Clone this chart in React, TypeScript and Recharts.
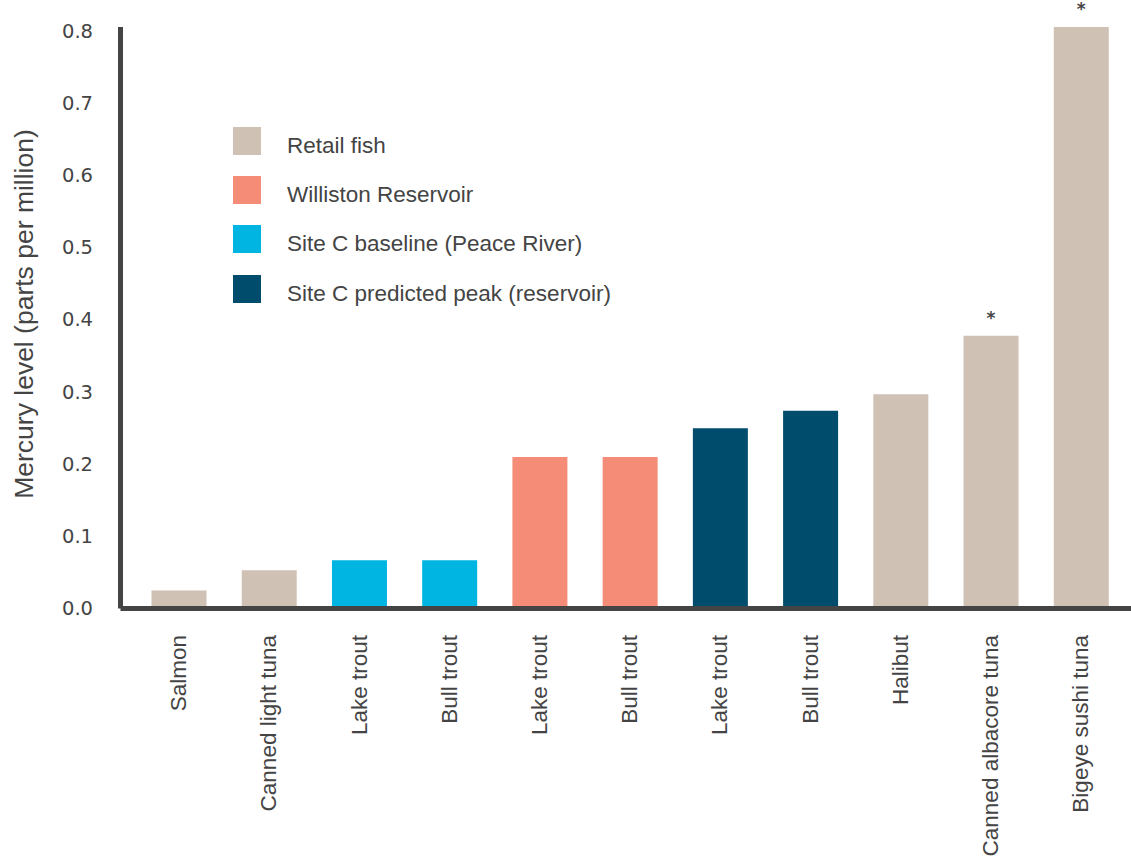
import React from 'react';
import { BarChart, Bar, XAxis, YAxis, Cell, Legend, LabelList } from 'recharts';

const categories = ['Salmon', 'Canned light tuna', 'Lake trout', 'Bull trout', 'Lake trout', 'Bull trout', 'Lake trout', 'Bull trout', 'Halibut', 'Canned albacore tuna', 'Bigeye sushi tuna'];
const values = [0.025, 0.053, 0.067, 0.067, 0.21, 0.21, 0.25, 0.274, 0.297, 0.378, 0.806];
const groups = [0, 0, 2, 2, 1, 1, 3, 3, 0, 0, 0];
const flagged = [false, false, false, false, false, false, false, false, false, true, true];
const seriesNames = ['Retail fish', 'Williston Reservoir', 'Site C baseline (Peace River)', 'Site C predicted peak (reservoir)'];
const seriesColors = ['#cfc1b4', '#f48c78', '#00b5e2', '#004c6c'];
const yTicks = [0, 0.1, 0.2, 0.3, 0.4, 0.5, 0.6, 0.7, 0.8];
const yLabel = 'Mercury level (parts per million)';

const data = categories.map((c, i) => ({ idx: i, name: c, value: values[i], group: groups[i], star: flagged[i] ? '*' : '' }));

const SANS = '"Liberation Sans", Arial, sans-serif';
const DEJA = '"DejaVu Sans", sans-serif';
const TEXT = '#444';

const XTick = (props: any) => {
  const { x, payload } = props;
  return (
    <text x={x} y={635} transform={`rotate(-90 ${x} 635)`} textAnchor="end" dominantBaseline="central" fontSize={22.5} fill={TEXT} fontFamily={SANS}>
      {categories[payload.value]}
    </text>
  );
};

const YTick = (props: any) => {
  const { y, payload } = props;
  return (
    <text x={93} y={y} textAnchor="end" dominantBaseline="central" fontSize={19.5} fill={TEXT} fontFamily={DEJA}>
      {Number(payload.value).toFixed(1)}
    </text>
  );
};

const YLabel = () => (
  <text x={24} y={314} transform="rotate(-90 24 314)" textAnchor="middle" dominantBaseline="central" fontSize={26.5} fill={TEXT} fontFamily={SANS}>
    {yLabel}
  </text>
);

const StarLabel = (props: any) => {
  const { x, y, width, value } = props;
  if (!value) return null;
  return (
    <text x={x + width / 2} y={y - 12} textAnchor="middle" fontSize={17} fontWeight="bold" fill={TEXT} fontFamily={DEJA}>
      {value}
    </text>
  );
};

const LegendContent = () => (
  <div style={{ fontFamily: SANS, color: TEXT }}>
    {seriesNames.map((n, i) => (
      <div key={n} style={{ display: 'flex', alignItems: 'center', height: 49.4 }}>
        <div style={{ width: 28, height: 28, background: seriesColors[i], marginRight: 26, flexShrink: 0 }} />
        <span style={{ fontSize: 22.5, whiteSpace: 'nowrap', position: 'relative', top: 5 }}>{n}</span>
      </div>
    ))}
  </div>
);

export default function App() {
  return (
    <div style={{ position: 'absolute', left: 0, top: 0, width: 1131, height: 858, background: '#fff' }}>
      <BarChart width={1131} height={858} data={data} margin={{ top: 27, right: 0, bottom: 0, left: 0 }}>
        <XAxis
          dataKey="idx"
          type="category"
          height={249.5}
          tick={<XTick />}
          tickLine={false}
          axisLine={{ stroke: '#444', strokeWidth: 5 }}
          padding={{ left: 13, right: 5 }}
          interval={0}
        />
        <YAxis
          width={120.5}
          domain={[0, 0.806]}
          ticks={yTicks}
          tick={<YTick />}
          tickLine={false}
          axisLine={{ stroke: '#444', strokeWidth: 5 }}
          label={<YLabel />}
          allowDataOverflow
        />
        <Legend
          verticalAlign="middle"
          align="center"
          layout="horizontal"
          content={<LegendContent />}
          wrapperStyle={{ position: 'absolute', left: 233, top: 116, width: 460, height: 200 }}
        />
        <Bar dataKey="value" barSize={55} isAnimationActive={false}>
          {data.map((d, i) => (
            <Cell key={i} fill={seriesColors[d.group]} />
          ))}
          <LabelList dataKey="star" content={<StarLabel />} />
        </Bar>
      </BarChart>
    </div>
  );
}
